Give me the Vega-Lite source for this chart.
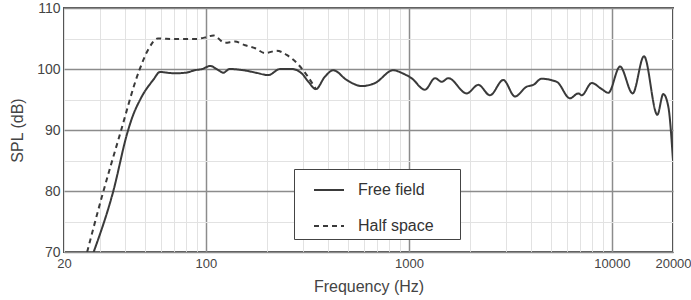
{
  "$schema": "https://vega.github.io/schema/vega-lite/v6.json",
  "autosize": {"type": "none"},
  "padding": {"left": 64, "top": 8, "right": 18, "bottom": 48},
  "width": 609,
  "height": 244,
  "background": "white",
  "config": {
    "font": "Liberation Sans",
    "view": {"stroke": "#555", "strokeWidth": 2},
    "axis": {"labelColor": "#444", "titleColor": "#444", "titleFontWeight": "normal", "ticks": false, "domain": false, "labelFont": "Liberation Sans", "titleFont": "Liberation Sans"}
  },
  "datasets": {
    "curves": [
      {"f": 28, "spl": 70, "series": "Free field"},
      {"f": 35, "spl": 80, "series": "Free field"},
      {"f": 41, "spl": 89.5, "series": "Free field"},
      {"f": 43.1, "spl": 91.8, "series": "Free field"},
      {"f": 48, "spl": 95.3, "series": "Free field"},
      {"f": 55, "spl": 98.2, "series": "Free field"},
      {"f": 59.4, "spl": 99.5, "series": "Free field"},
      {"f": 70, "spl": 99.3, "series": "Free field"},
      {"f": 80, "spl": 99.4, "series": "Free field"},
      {"f": 88, "spl": 99.8, "series": "Free field"},
      {"f": 96, "spl": 100.0, "series": "Free field"},
      {"f": 105, "spl": 100.5, "series": "Free field"},
      {"f": 114, "spl": 99.9, "series": "Free field"},
      {"f": 122, "spl": 99.4, "series": "Free field"},
      {"f": 131, "spl": 100.0, "series": "Free field"},
      {"f": 153, "spl": 99.8, "series": "Free field"},
      {"f": 176, "spl": 99.4, "series": "Free field"},
      {"f": 203, "spl": 99.0, "series": "Free field"},
      {"f": 232, "spl": 100.0, "series": "Free field"},
      {"f": 265, "spl": 100.0, "series": "Free field"},
      {"f": 296, "spl": 99.3, "series": "Free field"},
      {"f": 320, "spl": 97.9, "series": "Free field"},
      {"f": 348, "spl": 96.7, "series": "Free field"},
      {"f": 385, "spl": 98.7, "series": "Free field"},
      {"f": 424, "spl": 99.8, "series": "Free field"},
      {"f": 494, "spl": 98.2, "series": "Free field"},
      {"f": 586, "spl": 97.2, "series": "Free field"},
      {"f": 681, "spl": 97.7, "series": "Free field"},
      {"f": 838, "spl": 99.8, "series": "Free field"},
      {"f": 930, "spl": 99.3, "series": "Free field"},
      {"f": 1030, "spl": 98.5, "series": "Free field"},
      {"f": 1200, "spl": 96.6, "series": "Free field"},
      {"f": 1345, "spl": 98.5, "series": "Free field"},
      {"f": 1451, "spl": 97.9, "series": "Free field"},
      {"f": 1564, "spl": 98.5, "series": "Free field"},
      {"f": 1927, "spl": 96.0, "series": "Free field"},
      {"f": 2198, "spl": 97.4, "series": "Free field"},
      {"f": 2509, "spl": 95.7, "series": "Free field"},
      {"f": 2918, "spl": 98.2, "series": "Free field"},
      {"f": 3332, "spl": 95.5, "series": "Free field"},
      {"f": 3803, "spl": 97.1, "series": "Free field"},
      {"f": 4103, "spl": 97.4, "series": "Free field"},
      {"f": 4500, "spl": 98.4, "series": "Free field"},
      {"f": 5350, "spl": 97.9, "series": "Free field"},
      {"f": 6218, "spl": 95.2, "series": "Free field"},
      {"f": 6833, "spl": 96.0, "series": "Free field"},
      {"f": 7097, "spl": 95.7, "series": "Free field"},
      {"f": 7954, "spl": 97.7, "series": "Free field"},
      {"f": 8914, "spl": 96.7, "series": "Free field"},
      {"f": 9610, "spl": 96.1, "series": "Free field"},
      {"f": 10967, "spl": 100.4, "series": "Free field"},
      {"f": 12660, "spl": 96.0, "series": "Free field"},
      {"f": 14393, "spl": 102.1, "series": "Free field"},
      {"f": 16740, "spl": 92.5, "series": "Free field"},
      {"f": 17917, "spl": 95.9, "series": "Free field"},
      {"f": 18970, "spl": 93.8, "series": "Free field"},
      {"f": 20000, "spl": 85.0, "series": "Free field"},
      {"f": 26, "spl": 70, "series": "Half space"},
      {"f": 30.7, "spl": 79, "series": "Half space"},
      {"f": 37.5, "spl": 89, "series": "Half space"},
      {"f": 47, "spl": 99.8, "series": "Half space"},
      {"f": 52, "spl": 103.2, "series": "Half space"},
      {"f": 58, "spl": 105.0, "series": "Half space"},
      {"f": 70, "spl": 104.9, "series": "Half space"},
      {"f": 87, "spl": 104.9, "series": "Half space"},
      {"f": 100, "spl": 105.2, "series": "Half space"},
      {"f": 109, "spl": 105.5, "series": "Half space"},
      {"f": 124, "spl": 104.3, "series": "Half space"},
      {"f": 139, "spl": 104.5, "series": "Half space"},
      {"f": 156, "spl": 103.9, "series": "Half space"},
      {"f": 175, "spl": 103.4, "series": "Half space"},
      {"f": 196, "spl": 102.6, "series": "Half space"},
      {"f": 223, "spl": 103.0, "series": "Half space"},
      {"f": 250, "spl": 102.3, "series": "Half space"},
      {"f": 282, "spl": 100.9, "series": "Half space"},
      {"f": 314, "spl": 99.0, "series": "Half space"},
      {"f": 348, "spl": 96.7, "series": "Half space"}
    ]
  },
  "data": {"name": "curves"},
  "mark": {"type": "line", "interpolate": "monotone", "color": "#3a3a3a", "strokeWidth": 2, "clip": true},
  "encoding": {
    "x": {
      "field": "f", "type": "quantitative",
      "scale": {"type": "log", "domain": [20, 20000], "nice": false},
      "axis": {
        "title": "Frequency (Hz)",
        "titleFontSize": 16,
        "titlePadding": 8,
        "labelFontSize": 13,
        "labelPadding": 5,
        "labelOverlap": false,
        "labelBound": false,
        "labelFlush": false,
        "values": [20, 30, 40, 50, 60, 70, 80, 90, 100, 200, 300, 400, 500, 600, 700, 800, 900, 1000, 2000, 3000, 4000, 5000, 6000, 7000, 8000, 9000, 10000, 20000],
        "labelExpr": "(datum.value == 20 || datum.value == 100 || datum.value == 1000 || datum.value == 10000 || datum.value == 20000) ? format(datum.value, 'd') : ''",
        "grid": true,
        "gridColor": {"condition": {"test": "datum.value == 100 || datum.value == 1000 || datum.value == 10000", "value": "#8c8c8c"}, "value": "#e2e2e2"},
        "gridWidth": {"condition": {"test": "datum.value == 100 || datum.value == 1000 || datum.value == 10000", "value": 1.5}, "value": 1}
      }
    },
    "y": {
      "field": "spl", "type": "quantitative",
      "scale": {"domain": [70, 110], "nice": false},
      "axis": {
        "title": "SPL (dB)",
        "titleFontSize": 16,
        "titlePadding": 11,
        "labelFontSize": 14,
        "labelPadding": 4,
        "values": [70, 75, 80, 85, 90, 95, 100, 105, 110],
        "labelExpr": "datum.value % 10 == 0 ? format(datum.value, 'd') : ''",
        "labelOverlap": false,
        "grid": true,
        "gridColor": {"condition": {"test": "datum.value % 10 == 0", "value": "#8c8c8c"}, "value": "#e2e2e2"},
        "gridWidth": {"condition": {"test": "datum.value % 10 == 0", "value": 1.5}, "value": 1}
      }
    },
    "strokeDash": {
      "field": "series", "type": "nominal",
      "scale": {"domain": ["Free field", "Half space"], "range": [[1, 0], [5, 4]]},
      "legend": {
        "title": null,
        "orient": "none",
        "legendX": 230,
        "legendY": 161,
        "fillColor": "white",
        "strokeColor": "#444",
        "padding": 5,
        "symbolOffset": 14,
        "symbolType": "stroke",
        "symbolSize": 900,
        "symbolStrokeWidth": 2,
        "symbolStrokeColor": "#3a3a3a",
        "labelFontSize": 16,
        "labelColor": "#333",
        "labelOffset": 13,
        "rowPadding": 12,
        "labelExpr": "datum.label + '\u2003\u2004\u200b'"
      }
    }
  }
}
